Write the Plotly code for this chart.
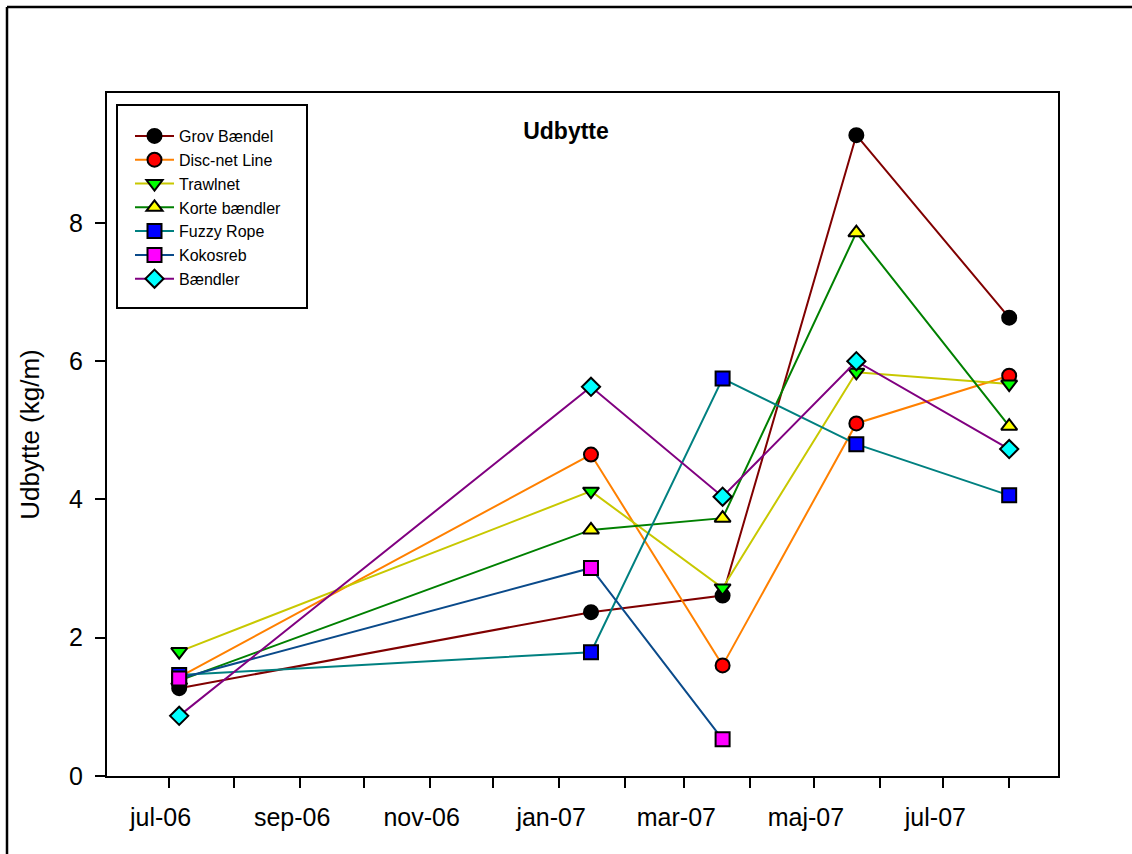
import plotly.graph_objects as go

# Sampling dates and yield per rope type (kg/m)
dates = ["2006-07-06", "2007-01-16", "2007-03-19", "2007-05-21", "2007-08-01"]

grov_baendel = [1.27, 2.37, 2.61, 9.27, 6.63]
disc_net_line = [1.43, 4.65, 1.60, 5.10, 5.79]
trawlnet = [1.80, 4.12, 2.72, 5.84, 5.67]
korte_baendler = [1.38, 3.56, 3.73, 7.86, 5.06]
fuzzy_rope = [1.46, 1.79, 5.75, 4.80, 4.06]
kokosreb = [1.41, 3.01, 0.53]
baendler = [0.87, 5.63, 4.04, 6.00, 4.73]

tick_dates = ["2006-07-01", "2006-09-01", "2006-11-01", "2007-01-01",
              "2007-03-01", "2007-05-01", "2007-07-01"]
tick_labels = ["jul-06", "sep-06", "nov-06", "jan-07", "mar-07", "maj-07", "jul-07"]
y_ticks = [0, 2, 4, 6, 8]

series = [
    ("Grov Bændel", grov_baendel, "#800000", "#000000", "circle"),
    ("Disc-net Line", disc_net_line, "#FF8000", "#FF0000", "circle"),
    ("Trawlnet", trawlnet, "#C8C800", "#00FF00", "triangle-down"),
    ("Korte bændler", korte_baendler, "#008000", "#FFFF00", "triangle-up"),
    ("Fuzzy Rope", fuzzy_rope, "#008080", "#0000FF", "square"),
    ("Kokosreb", kokosreb, "#0A4A8A", "#FF00FF", "square"),
    ("Bændler", baendler, "#800080", "#00FFFF", "diamond"),
]

FONT = "Liberation Sans, Arial, sans-serif"

fig = go.Figure()
for name, values, line_color, fill, symbol in series:
    fig.add_trace(go.Scatter(
        x=dates[:len(values)], y=values, name=name, mode="lines+markers",
        legendgroup=name,
        line=dict(color=line_color, width=2),
        marker=dict(symbol=symbol, size=14, color=fill,
                    line=dict(color="#000000", width=2)),
    ))

# plot area in pixels: left 107, right 1058, top 93, bottom 776
W, H = 1132, 854
L, R, T, B = 107, 1058, 93, 776
pw, ph = R - L, B - T


def px(xp):
    return (xp - L) / pw


def py(yp):
    return (B - yp) / ph


shapes = [
    # outer frame (left and top edges)
    dict(type="line", xref="paper", yref="paper", x0=px(7), x1=px(7),
         y0=py(7), y1=py(W), line=dict(color="black", width=2.5)),
    dict(type="line", xref="paper", yref="paper", x0=px(7), x1=px(W),
         y0=py(7), y1=py(7), line=dict(color="black", width=2.5)),
    # legend box
    dict(type="rect", xref="paper", yref="paper", x0=px(117), x1=px(307),
         y0=py(308), y1=py(105), line=dict(color="black", width=2),
         fillcolor="white", layer="below"),
]

fig.update_layout(
    width=W, height=H,
    margin=dict(l=L, r=W - R, t=T, b=H - B, autoexpand=False),
    paper_bgcolor="white", plot_bgcolor="white",
    font=dict(family=FONT, color="black", size=25),
    title=dict(text="<b>Udbytte</b>", xref="paper", yref="paper",
               x=px(566), y=py(131), xanchor="center", yanchor="middle",
               font=dict(family=FONT, size=23, color="black")),
    showlegend=True,
    legend=dict(x=px(130), y=py(119), xanchor="left", yanchor="top",
                bgcolor="rgba(0,0,0,0)", borderwidth=0,
                font=dict(family=FONT, size=16, color="black"),
                itemwidth=39, tracegroupgap=0),
    shapes=shapes,
    xaxis=dict(
        type="date", range=["2006-06-02", "2007-08-24"],
        tickmode="array", tickvals=tick_dates, ticktext=tick_labels,
        ticks="outside", ticklen=10, tickwidth=2, tickcolor="black",
        ticklabelstandoff=8, ticklabelshift=-8,
        showline=True, linecolor="black", linewidth=2, mirror=True,
        showgrid=False, zeroline=False,
        minor=dict(tickmode="linear", tick0="2006-06-01", dtick="M1",
                   ticks="outside", ticklen=10, tickwidth=2, tickcolor="black",
                   showgrid=False),
        tickfont=dict(family=FONT, size=25, color="black"),
    ),
    yaxis=dict(
        range=[0, 9.88], tickmode="array", tickvals=y_ticks,
        ticks="outside", ticklen=10, tickwidth=2, tickcolor="black",
        ticklabelstandoff=7,
        showline=True, linecolor="black", linewidth=2, mirror=True,
        showgrid=False, zeroline=False,
        tickfont=dict(family=FONT, size=25, color="black"),
        title=dict(text="Udbytte (kg/m)", standoff=22,
                   font=dict(family=FONT, size=26, color="black")),
    ),
)

fig.write_html("out.html")
